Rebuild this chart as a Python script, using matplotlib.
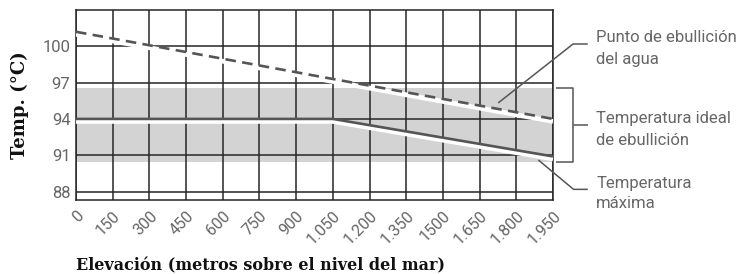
import matplotlib
matplotlib.use("Agg")
import matplotlib.pyplot as plt
import matplotlib.transforms as mtransforms
import numpy as np

# --- data ---
elevation_ticks = [0, 150, 300, 450, 600, 750, 900, 1050, 1200, 1350, 1500, 1650, 1800, 1950]
elevation_labels = ["0", "150", "300", "450", "600", "750", "900", "1.050", "1.200",
                    "1.350", "1500", "1.650", "1.800", "1.950"]
temp_ticks = [88, 91, 94, 97, 100]

boil_x = [0, 1050, 1950]          # punto de ebullición del agua
boil_y = [101.2, 97.3, 94.0]

max_x = [0, 1050, 1950]           # temperatura máxima
max_y = [94.0, 94.0, 90.9]

ideal_low, ideal_high = 90.4, 96.55   # temperatura ideal de ebullición

TEXT = "#666666"
LINE = "#555555"
GRID = "#262626"
SANS = ["Roboto", "DejaVu Sans"]

fig = plt.figure(figsize=(7.47, 2.74), dpi=100)
ax = fig.add_axes([76 / 747, 74 / 274, 477 / 747, 190 / 274])

ax.set_xlim(0, 1950)
ax.set_ylim(87.3, 103)

# grey band for the ideal range
ax.axhspan(ideal_low, ideal_high, color="#d3d3d3", lw=0, zorder=0.2)

# grid
ax.set_axisbelow(True)
ax.set_xticks(elevation_ticks)
ax.set_yticks(temp_ticks)
ax.grid(True, color=GRID, lw=1.1)
for s in ax.spines.values():
    s.set_color(GRID)
    s.set_linewidth(1.1)

# white "shadow" lines slightly below the data lines
shadow = mtransforms.offset_copy(ax.transData, fig=fig, x=0, y=-2.5, units="dots")
ax.plot(boil_x, boil_y, color="white", lw=3.4, transform=shadow, zorder=3, solid_capstyle="butt")
ax.plot(max_x, max_y, color="white", lw=3.4, transform=shadow, zorder=3, solid_capstyle="butt")

ax.plot(boil_x, boil_y, color=LINE, lw=1.9, linestyle=(0, (4.0, 2.4)), zorder=4)
ax.plot(max_x, max_y, color=LINE, lw=1.9, zorder=4, solid_capstyle="butt")

# ticks
ax.tick_params(axis="both", length=0, labelcolor=TEXT, labelsize=12)
ax.tick_params(axis="y", pad=4)
ax.tick_params(axis="x", pad=6, labelsize=11.5)
ax.set_xticklabels(elevation_labels, rotation=45, ha="right", va="top",
                   rotation_mode="anchor", family=SANS)
ax.set_yticklabels([str(t) for t in temp_ticks], family=SANS)

# axis titles
fig.text(20 / 747, 1 - 105 / 274, "Temp. (°C)", rotation=90, ha="center", va="center",
         fontsize=13, fontweight="bold", family="DejaVu Serif", color="#111111")
fig.text(260 / 747, 1 - 270.5 / 274, "Elevación (metros sobre el nivel del mar)",
         ha="center", va="baseline", fontsize=11.5, fontweight="bold",
         family="DejaVu Serif", color="#111111")

# --- callouts (drawn in data coords, outside the plot) ---
label_x = 2126
lead_kw = dict(color=LINE, lw=1.1, clip_on=False, zorder=5, solid_capstyle="butt")

# punto de ebullición
px = 1726
py = np.interp(px, boil_x, boil_y) + 0.5
ax.plot([px, 2032, 2092], [py, 100.19, 100.19], **lead_kw)
ax.text(label_x, 100.38, "Punto de ebullición", ha="left", va="baseline",
        fontsize=12, color=TEXT, family=SANS, clip_on=False)
ax.text(label_x, 98.54, "del agua", ha="left", va="baseline",
        fontsize=12, color=TEXT, family=SANS, clip_on=False)

# bracket for the ideal range
mid = (ideal_low + ideal_high) / 2
ax.plot([1962, 2030.5, 2030.5, 1962], [ideal_high, ideal_high, ideal_low, ideal_low], **lead_kw)
ax.plot([2030.5, 2092], [mid, mid], **lead_kw)
ax.text(label_x, mid + 0.15, "Temperatura ideal", ha="left", va="baseline",
        fontsize=12, color=TEXT, family=SANS, clip_on=False)
ax.text(label_x, mid - 1.65, "de ebullición", ha="left", va="baseline",
        fontsize=12, color=TEXT, family=SANS, clip_on=False)

# temperatura máxima
mx = 1890
my = np.interp(mx, max_x, max_y) - 0.5
ax.plot([mx, 2034, 2092], [my, 88.18, 88.18], **lead_kw)
ax.text(label_x, 88.27, "Temperatura", ha="left", va="baseline",
        fontsize=12, color=TEXT, family=SANS, clip_on=False)
ax.text(label_x, 86.61, "máxima", ha="left", va="baseline",
        fontsize=12, color=TEXT, family=SANS, clip_on=False)

fig.savefig("out.png", dpi=100)
plt.close(fig)
